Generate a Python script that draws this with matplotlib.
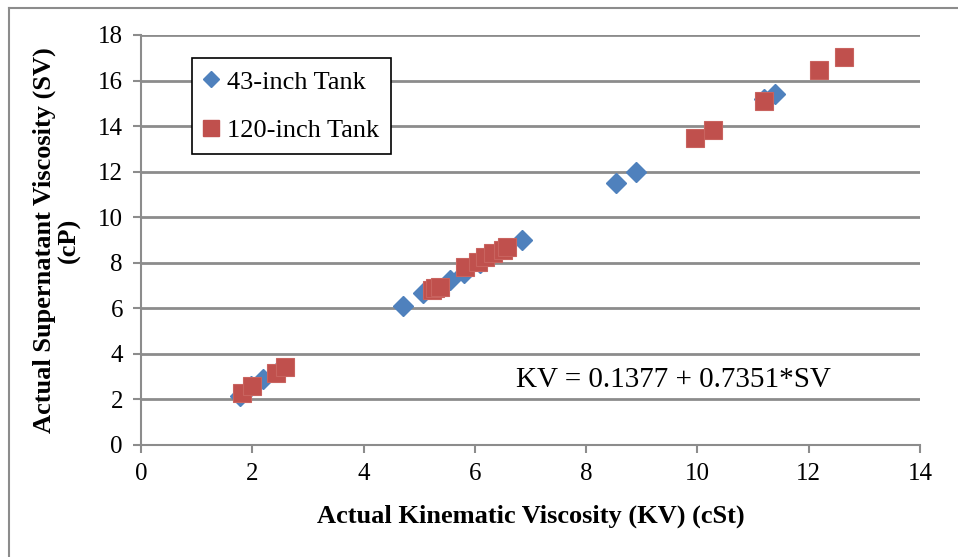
import matplotlib.pyplot as plt
from matplotlib.lines import Line2D

# 43-inch tank (blue diamonds)
kv_43 = [1.77, 1.98, 2.2, 2.45, 4.71, 5.07, 5.2, 5.56, 5.8, 6.1, 6.4, 6.85, 8.53, 8.9, 11.2, 11.4]
sv_43 = [2.15, 2.6, 2.9, 3.2, 6.1, 6.67, 6.85, 7.24, 7.55, 8.0, 8.5, 9.0, 11.5, 12.0, 15.2, 15.4]

# 120-inch tank (red squares)
kv_120 = [1.82, 2.0, 2.43, 2.59, 5.23, 5.29, 5.38, 5.83, 6.06, 6.19, 6.33, 6.5, 6.58,
          9.96, 10.27, 11.2, 12.18, 12.63]
sv_120 = [2.28, 2.59, 3.16, 3.42, 6.8, 6.89, 6.94, 7.8, 8.03, 8.25, 8.43, 8.55, 8.69,
          13.48, 13.83, 15.1, 16.46, 17.05]

x_ticks = [0, 2, 4, 6, 8, 10, 12, 14]
y_ticks = [0, 2, 4, 6, 8, 10, 12, 14, 16, 18]

plt.rcParams['font.family'] = ['Liberation Serif', 'DejaVu Serif']

fig = plt.figure(figsize=(9.58, 5.57), dpi=100)
ax = fig.add_axes([0.1472, 0.2011, 0.8132, 0.7361])

grey = "#8c8c8c"
ax.set_xlim(0, 14)
ax.set_ylim(0, 18)
ax.set_xticks(x_ticks)
ax.set_yticks(y_ticks)
ax.grid(True, axis='y', color=grey, linewidth=2)
ax.set_axisbelow(True)
for s in ['top', 'right']:
    ax.spines[s].set_visible(False)
for s in ['left', 'bottom']:
    ax.spines[s].set_color(grey)
    ax.spines[s].set_linewidth(1.5)
ax.tick_params(direction='out', length=6, width=1.5, color=grey, labelsize=18, pad=7)

ax.plot(kv_43, sv_43, linestyle='none', marker='D', markersize=10.2,
        color='#4F81BD', markeredgecolor='#4F81BD', label='43-inch Tank', zorder=3)
ax.plot(kv_120, sv_120, linestyle='none', marker='s', markersize=13.3,
        color='#C0504D', markeredgecolor='#C9635F', markeredgewidth=0.8,
        label='120-inch Tank', zorder=4)

handles = [Line2D([], [], linestyle='none', marker='D', markersize=8, color='#4F81BD'),
           Line2D([], [], linestyle='none', marker='s', markersize=12, color='#C0504D')]
leg = ax.legend(handles, ['43-inch Tank', '120-inch Tank'], loc='upper left',
                bbox_to_anchor=(0.065, 0.943), fontsize=19, fancybox=False,
                edgecolor='black', framealpha=1, borderpad=0.45, labelspacing=0.95,
                handlelength=0.6, handletextpad=0.3, borderaxespad=0)
leg.get_frame().set_linewidth(1.2)

ax.text(6.74, 2.85, "KV = 0.1377 + 0.7351*SV", fontsize=21, va='center', ha='left')

ax.set_xlabel("Actual Kinematic Viscosity (KV) (cSt)", fontsize=19, fontweight='bold', labelpad=14)
ax.set_ylabel("Actual Supernatant Viscosity (SV)\n(cP)", fontsize=19, fontweight='bold',
              labelpad=12, linespacing=1.1)

# chart area border (left and top only visible)
fig.add_artist(Line2D([0.0094, 0.0094], [0, 0.986], transform=fig.transFigure, color=grey, linewidth=1.5))
fig.add_artist(Line2D([0.0094, 1.0], [0.986, 0.986], transform=fig.transFigure, color=grey, linewidth=1.5))

fig.savefig("out.png", dpi=100)
